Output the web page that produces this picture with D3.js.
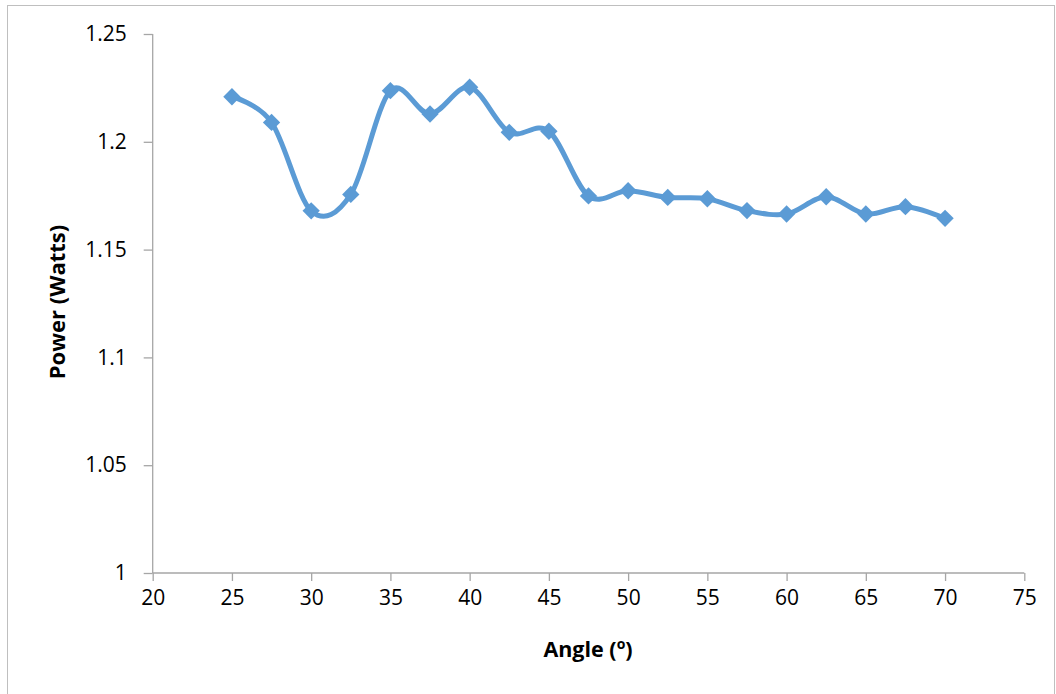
<!DOCTYPE html>
<html><head><meta charset="utf-8">
<script src="https://cdn.jsdelivr.net/npm/d3@7/dist/d3.min.js"></script>
<style>body{margin:0;background:#fff}svg{display:block}text{font-family:"Open Sans",sans-serif}</style>
</head><body><svg id="c" width="1056" height="694"></svg>
<script>
const angles = [25,27.5,30,32.5,35,37.5,40,42.5,45,47.5,50,52.5,55,57.5,60,62.5,65,67.5,70];
const power = [1.2209,1.209,1.168,1.1756,1.2237,1.2129,1.2253,1.2044,1.2049,1.1749,1.1773,1.1742,1.1736,1.1681,1.1665,1.1745,1.1665,1.1699,1.1645];
const xTicks = [20,25,30,35,40,45,50,55,60,65,70,75];
const yTicks = [1,1.05,1.1,1.15,1.2,1.25];

const svg = d3.select('#c');
svg.append('rect').attr('x',7.5).attr('y',5.5).attr('width',1047).attr('height',700).attr('fill','none').attr('stroke','#bfbfbf');
const x = d3.scaleLinear().domain([20,75]).range([152.7,1024.3]);
const y = d3.scaleLinear().domain([1,1.25]).range([573,34]);
const ax = '#a6a6a6';

const gx = svg.append('g').attr('transform','translate(0,573)')
  .call(d3.axisBottom(x).tickValues(xTicks).tickSize(8).tickPadding(9).tickFormat(d3.format('d')));
const gy = svg.append('g').attr('transform','translate(152.7,0)')
  .call(d3.axisLeft(y).tickValues(yTicks).tickSize(9).tickPadding(17).tickFormat(d=>String(+d.toFixed(2))));
[gx,gy].forEach(g=>{
  g.attr('font-family',null).attr('font-size',null);
  g.selectAll('path,line').attr('stroke',ax).attr('stroke-width',1.3);
  g.selectAll('text').attr('fill','#000').attr('font-size',21);
});
gy.select('.domain').attr('d','M0,573V34');
gx.select('.domain').attr('d','M152.7,0H1024.3');

const line = d3.line().x((d,i)=>x(angles[i])).y(d=>y(d)).curve(d3.curveCardinal.tension(0));
svg.append('path').datum(power).attr('d',line).attr('fill','none').attr('stroke','#5b9bd5').attr('stroke-width',5).attr('stroke-linejoin','round');
svg.selectAll('.m').data(power).join('path').attr('class','m')
  .attr('d',d3.symbol(d3.symbolSquare,150)())
  .attr('transform',(d,i)=>`translate(${x(angles[i])},${y(d)}) rotate(45)`)
  .attr('fill','#5b9bd5');

const xl = svg.append('text').attr('x',588).attr('y',657).attr('text-anchor','middle').attr('font-size',21.5).attr('font-weight','bold');
xl.append('tspan').text('Angle (');
xl.append('tspan').attr('font-size',14).attr('dy',-8).text('o');
xl.append('tspan').attr('dy',8).text(')');
svg.append('text').attr('transform','translate(65,302) rotate(-90)').attr('text-anchor','middle').attr('font-size',22).attr('font-weight','bold').text('Power (Watts)');
</script></body></html>
